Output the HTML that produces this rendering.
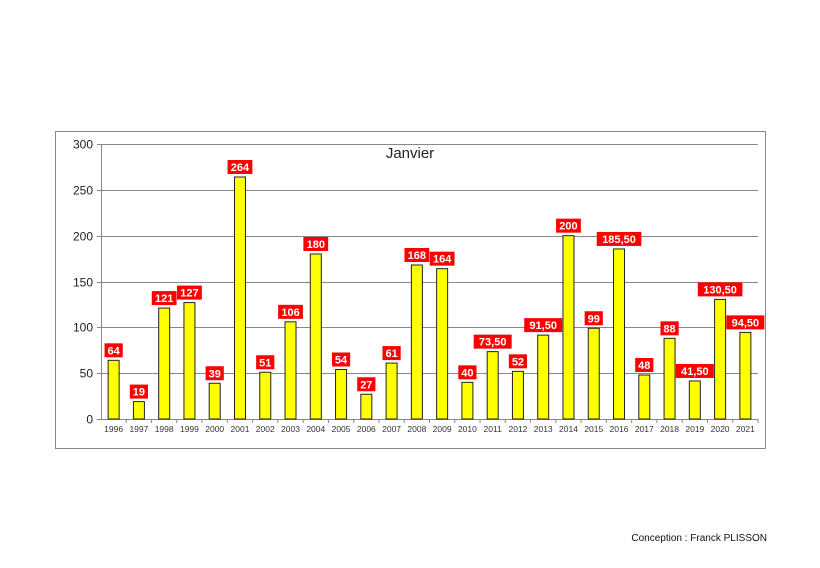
<!DOCTYPE html>
<html><head><meta charset="utf-8">
<style>
html,body{margin:0;padding:0;background:#fff;}
svg{display:block;font-family:"Liberation Sans",sans-serif;}
</style></head>
<body>
<svg id="chart" width="820" height="568" viewBox="0 0 820 568">
<rect x="55.5" y="131.5" width="710" height="317" fill="#fff" stroke="#888" stroke-width="1"/>
<text x="410" y="158" font-size="15" text-anchor="middle" fill="#222">Janvier</text>
<text x="767" y="541" font-size="10" text-anchor="end" fill="#111">Conception : Franck PLISSON</text>
</svg>
<script>
const categories = ["1996","1997","1998","1999","2000","2001","2002","2003","2004","2005","2006","2007","2008","2009","2010","2011","2012","2013","2014","2015","2016","2017","2018","2019","2020","2021"];
const values = [64,19,121,127,39,264,51,106,180,54,27,61,168,164,40,73.5,52,91.5,200,99,185.5,48,88,41.5,130.5,94.5];
const valueLabels = ["64","19","121","127","39","264","51","106","180","54","27","61","168","164","40","73,50","52","91,50","200","99","185,50","48","88","41,50","130,50","94,50"];
const yTicks = [0,50,100,150,200,250,300];

const svg = document.getElementById('chart');
const NS = 'http://www.w3.org/2000/svg';
const X0 = 101, X1 = 758, Y0 = 419, Y1 = 144, YMAX = 300;
const band = (X1 - X0) / categories.length;
const yScale = v => Y0 - (v / YMAX) * (Y0 - Y1);
const xCenter = i => X0 + band * (i + 0.5);
function mk(tag, attrs){ const e = document.createElementNS(NS, tag); for (const k in attrs) e.setAttribute(k, attrs[k]); svg.appendChild(e); return e; }

yTicks.forEach(t => {
  const y = Math.round(yScale(t)) + 0.5;
  if (t > 0) {
    const g = mk('line', {x1: X0, x2: X1, y1: y, y2: y, stroke: '#888', 'stroke-width': 1});
    
    
  }
  const tk = mk('line', {x1: X0 - 4, x2: X0, y1: y, y2: y, stroke: '#888'});
  
  
  const lb = mk('text', {x: X0 - 8, y: y + 4, 'font-size': 12, 'text-anchor': 'end', fill: '#222'});
  lb.textContent = t;
  
  
});
const ya = mk('line', {x1: X0 + 0.5, x2: X0 + 0.5, y1: Y1, y2: Y0 + 0.5, stroke: '#888'});


const xa = mk('line', {x1: X0, x2: X1, y1: Y0 + 0.5, y2: Y0 + 0.5, stroke: '#888'});



categories.forEach((c, i) => {
  const xt = X0 + band * (i + 1);
  const tk = mk('line', {x1: xt, x2: xt, y1: Y0, y2: Y0 + 4, stroke: '#888'});
  
  
  const cx = xCenter(i);
  const top = yScale(values[i]);
  const bar = mk('rect', {x: cx - 5.5, y: top, width: 11, height: Y0 - top, fill: '#ffff00', stroke: '#222', 'stroke-width': 1});
  
  
  const xl = mk('text', {x: cx, y: Y0 + 13, 'font-size': 8.5, 'text-anchor': 'middle', fill: '#333'});
  xl.textContent = c;
  
  
  const txt = valueLabels[i];
  const w = txt.length * 6.6 + 5;
  const bx = mk('rect', {x: cx - w / 2, y: top - 17, width: w, height: 14, fill: '#ff0000'});
  
  
  const vt = mk('text', {x: cx, y: top - 6, 'font-size': 11, 'font-weight': 'bold', 'text-anchor': 'middle', fill: '#fff'});
  vt.textContent = txt;
  
  
});
</script>
</body></html>
